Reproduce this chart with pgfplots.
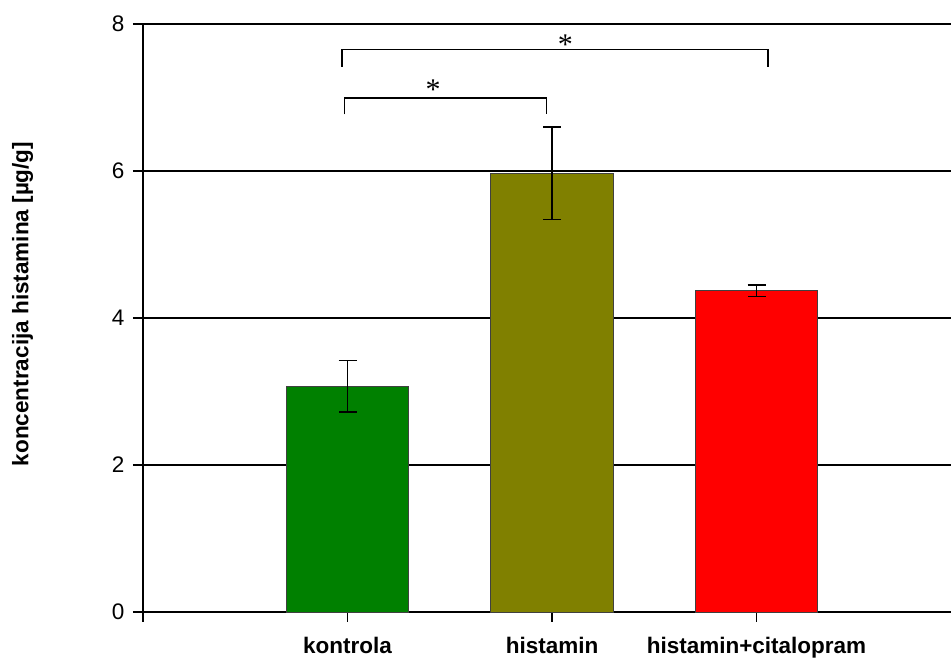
\documentclass[border=0pt]{standalone}
\usepackage{pgfplots}
\pgfplotsset{compat=1.18}
\usepackage{fontspec}
\setmainfont{Liberation Sans}
\newfontfamily\seriffont{Liberation Serif}
\definecolor{cg}{RGB}{0,128,0}
\definecolor{co}{RGB}{128,128,0}
\definecolor{cr}{RGB}{255,0,0}
\begin{document}
\begin{tikzpicture}
\begin{axis}[
 at={(143pt,47pt)}, anchor=south west, scale only axis, width=808pt, height=588pt,
 xmin=-1, xmax=2.951, ymin=0, ymax=8,
 axis x line*=bottom, axis y line*=left,
 axis line style={line width=1.3pt, -},
 xtick={-1,0,1,2}, xticklabels={,kontrola,histamin,histamin+citalopram},
 ytick={0,2,4,6,8},
 tick align=outside, major tick length=10pt, tick style={line width=1.3pt, black},
 ymajorgrids, grid style={line width=1.3pt, black},
 yticklabel style={font=\fontsize{22.5}{27}\selectfont, xshift=-5pt},
 xticklabel style={font=\fontsize{22.5}{27}\selectfont\bfseries, yshift=-12pt},
 ylabel={koncentracija histamina [µg/g]},
 ylabel style={font=\fontsize{22.5}{27}\selectfont\bfseries, at={(axis description cs:-0.149,0.524)}, anchor=center},
 ybar, bar width=0.6, bar shift=0pt,
 /pgf/number format/assume math mode=true,
 clip=false,
]
\addplot[fill=cg, draw=black!75, line width=0.8pt,
  error bars/.cd, y dir=both, y explicit,
  error bar style={line width=1.4pt, black},
  error mark options={rotate=90, mark size=9pt, line width=1.4pt, black}]
  coordinates {(0,3.07) +- (0,0.35)};
\addplot[fill=co, draw=black!75, line width=0.8pt,
  error bars/.cd, y dir=both, y explicit,
  error bar style={line width=1.4pt, black},
  error mark options={rotate=90, mark size=9pt, line width=1.4pt, black}]
  coordinates {(1,5.97) +- (0,0.63)};
\addplot[fill=cr, draw=black!75, line width=0.8pt,
  error bars/.cd, y dir=both, y explicit,
  error bar style={line width=1.4pt, black},
  error mark options={rotate=90, mark size=9pt, line width=1.4pt, black}]
  coordinates {(2,4.37) +- (0,0.077)};
\draw[line width=1.5pt] (axis cs:-0.026,7.42) -- (axis cs:-0.026,7.65) -- (axis cs:2.057,7.65) -- (axis cs:2.057,7.42);
\draw[line width=1.5pt] (axis cs:-0.015,6.77) -- (axis cs:-0.015,6.99) -- (axis cs:0.972,6.99) -- (axis cs:0.972,6.77);
\node[font=\seriffont\fontsize{30}{30}\selectfont, yshift=-3.5pt] at (axis cs:1.065,7.77) {*};
\node[font=\seriffont\fontsize{30}{30}\selectfont, yshift=-3.5pt] at (axis cs:0.419,7.16) {*};
\end{axis}
\pgfresetboundingbox
\path[use as bounding box] (0,0) rectangle (951pt,659pt);
\end{tikzpicture}
\end{document}
